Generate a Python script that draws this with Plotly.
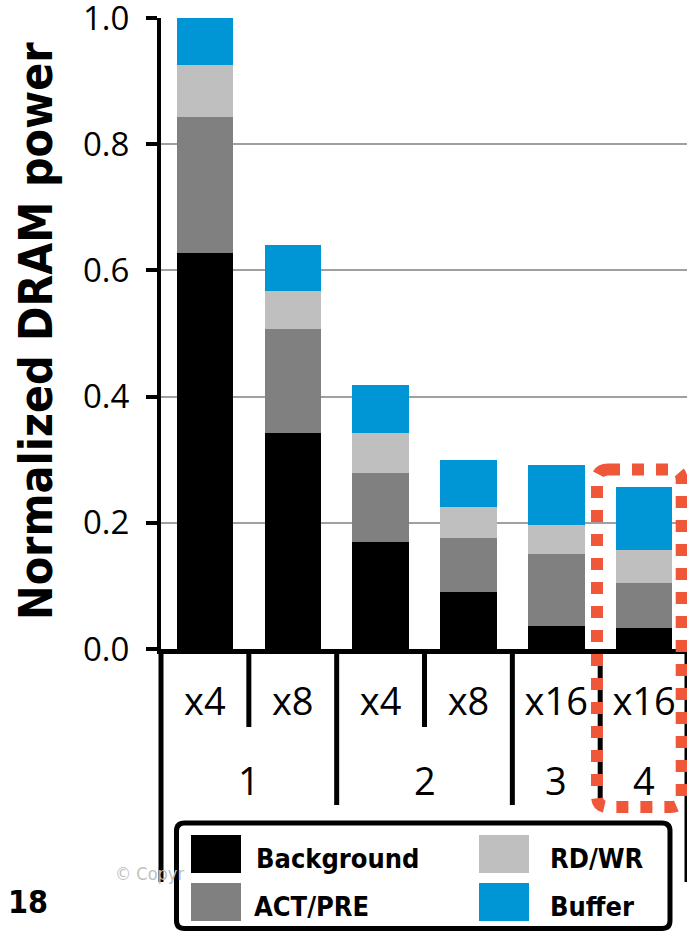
import plotly.graph_objects as go

# ---- data ----------------------------------------------------------------
groups = ["1", "1", "2", "2", "3", "4"]
widths = ["x4", "x8", "x4", "x8", "x16", "x16"]
background = [0.627, 0.343, 0.169, 0.090, 0.036, 0.034]
act_pre = [0.216, 0.164, 0.110, 0.086, 0.114, 0.071]
rd_wr = [0.083, 0.061, 0.063, 0.049, 0.046, 0.052]
buffer = [0.074, 0.072, 0.077, 0.075, 0.096, 0.100]
series_names = ["Background", "ACT/PRE", "RD/WR", "Buffer"]
series_colors = ["#000000", "#808080", "#bfbfbf", "#0096d6"]
y_ticks = [0.0, 0.2, 0.4, 0.6, 0.8, 1.0]

# ---- page geometry ---------------------------------------------------------
W, H = 687, 932
ML, MR, MT, MB = 161, 0, 18, 283
PW, PH = W - ML - MR, H - MT - MB
SLOT = 87.84
X_MIN = -0.5
X_MAX = X_MIN + PW / SLOT

REG = "Open Sans, Noto Sans, sans-serif"
BOLD = "DejaVu Sans Condensed, DejaVu Sans, sans-serif"


def px(x):
    return (x - ML) / PW


def py(y):
    return (H - MB - y) / PH


def rounded_rect(x0, y0, x1, y1, r):
    pts = [
        ("M", [(x0 + r, y0)]),
        ("L", [(x1 - r, y0)]),
        ("Q", [(x1, y0), (x1, y0 + r)]),
        ("L", [(x1, y1 - r)]),
        ("Q", [(x1, y1), (x1 - r, y1)]),
        ("L", [(x0 + r, y1)]),
        ("Q", [(x0, y1), (x0, y1 - r)]),
        ("L", [(x0, y0 + r)]),
        ("Q", [(x0, y0), (x0 + r, y0)]),
    ]
    out = []
    for cmd, ps in pts:
        out.append(cmd + " ".join(f"{px(a):.5f},{py(b):.5f}" for a, b in ps))
    return " ".join(out) + " Z"


xs = list(range(len(widths)))
values = [background, act_pre, rd_wr, buffer]

fig = go.Figure()
for name, color, vals in zip(series_names, series_colors, values):
    fig.add_trace(go.Bar(x=xs, y=vals, name=name, marker=dict(color=color, line=dict(width=0)),
                         showlegend=False))

shapes = []
annotations = []

# category dividers below the axis
for i in range(len(widths) - 1):
    b = i + 0.5
    same = groups[i] == groups[i + 1]
    y_end = 727 if same else 805
    shapes.append(dict(type="line", xref="x", yref="paper", x0=b, x1=b, y0=0, y1=py(y_end),
                       line=dict(color="black", width=5), layer="above"))
for xp in (0.0, 1.0):
    shapes.append(dict(type="line", xref="paper", yref="paper", x0=xp, x1=xp, y0=0, y1=py(882),
                       line=dict(color="black", width=5), layer="above"))

# group labels
seen = []
for g in groups:
    if g not in seen:
        seen.append(g)
for g in seen:
    idx = [i for i, gg in enumerate(groups) if gg == g]
    annotations.append(dict(x=sum(idx) / len(idx), y=py(780), xref="x", yref="paper", text=g,
                            showarrow=False, xanchor="center", yanchor="middle",
                            font=dict(family=REG, size=38, color="black")))

# highlight around the last configuration
shapes.append(dict(type="path", xref="paper", yref="paper",
                   path=rounded_rect(597, 469.5, 681.7, 807, 11),
                   line=dict(color="#f0563a", width=12, dash="dot"), layer="above"))

# axis title
annotations.append(dict(x=px(36), y=py(331), xref="paper", yref="paper", text="Normalized DRAM power",
                        textangle=-90, showarrow=False, xanchor="center", yanchor="middle",
                        font=dict(family=BOLD, size=46, color="black", weight="bold")))

# footer
annotations.append(dict(x=px(113), y=py(873), xref="paper", yref="paper", text="© Copyr",
                        showarrow=False, xanchor="left", yanchor="middle",
                        font=dict(family=BOLD, size=18, color="#c0c0c0")))
annotations.append(dict(x=px(28), y=py(902), xref="paper", yref="paper", text="18",
                        showarrow=False, xanchor="center", yanchor="middle",
                        font=dict(family=BOLD, size=32, color="black", weight="bold")))

# legend box
shapes.append(dict(type="path", xref="paper", yref="paper",
                   path=rounded_rect(176.5, 823, 670, 928.5, 8),
                   fillcolor="white", line=dict(color="black", width=5), layer="above"))
legend_slots = {
    "Background": (191, 835, 254),
    "ACT/PRE": (191, 883, 252),
    "RD/WR": (479, 835, 548),
    "Buffer": (479, 883, 548),
}
for name, color in zip(series_names, series_colors):
    sx, sy, tx = legend_slots[name]
    shapes.append(dict(type="rect", xref="paper", yref="paper", x0=px(sx), x1=px(sx + 50),
                       y0=py(sy), y1=py(sy + 38), fillcolor=color, line=dict(width=0),
                       layer="above"))
    annotations.append(dict(x=px(tx), y=py(sy + 23), xref="paper", yref="paper", text=name,
                            showarrow=False, xanchor="left", yanchor="middle",
                            font=dict(family=BOLD, size=27, color="black", weight="bold")))

fig.update_layout(
    width=W, height=H,
    margin=dict(l=ML, r=MR, t=MT, b=MB, pad=0, autoexpand=False),
    paper_bgcolor="white", plot_bgcolor="white",
    barmode="stack", bargap=0.357,
    shapes=shapes, annotations=annotations,
    xaxis=dict(range=[X_MIN, X_MAX], tickmode="array", tickvals=xs, ticktext=widths,
               ticks="", showgrid=False, zeroline=False, showline=True, linecolor="black",
               linewidth=5, tickfont=dict(family=REG, size=38, color="black"),
               ticklabelstandoff=15, automargin=False),
    yaxis=dict(range=[0, 1.0001], tickmode="array", tickvals=y_ticks, tickformat=".1f",
               ticks="outside", ticklen=11, tickwidth=4, tickcolor="black",
               showline=True, linecolor="black", linewidth=4, zeroline=False,
               showgrid=True, gridcolor="#a0a0a0", gridwidth=1.5, ticklabeloverflow="allow",
               tickfont=dict(family=REG, size=33, color="black"), ticklabelstandoff=10,
               automargin=False),
)

fig.write_html("out.html")
